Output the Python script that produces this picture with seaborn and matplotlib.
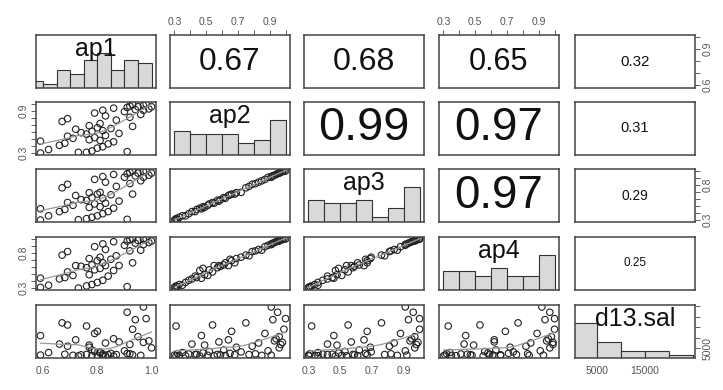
import numpy as np
import matplotlib
matplotlib.use("Agg")
import matplotlib.pyplot as plt
import seaborn as sns

sns.set_style("white")
plt.rcParams['font.family'] = ['Liberation Sans', 'DejaVu Sans']

var_names = ['ap1', 'ap2', 'ap3', 'ap4', 'd13.sal']

ap1 = [0.59, 0.73, 0.76, 0.91, 0.78, 0.62, 0.80, 0.82,
       0.66, 0.84, 0.68, 0.86, 0.59, 0.81, 0.77,
       0.71, 0.79, 0.69, 0.83, 0.76, 0.88, 0.74,
       0.78, 0.82, 0.72, 0.85, 0.80, 0.93, 0.77,
       0.81, 0.67, 0.87, 0.69,
       0.92, 0.83, 0.96, 0.79, 0.90,
       0.97, 0.82, 0.94, 0.99, 0.86, 0.91, 1.00, 0.95, 0.92, 0.97, 0.93, 0.98]
ap2 = [0.30, 0.31, 0.31, 0.32, 0.33, 0.35, 0.37, 0.39,
       0.41, 0.43, 0.44, 0.46, 0.47, 0.48, 0.49,
       0.51, 0.52, 0.54, 0.55, 0.57, 0.58, 0.59,
       0.61, 0.62, 0.64, 0.65, 0.66, 0.68, 0.69,
       0.72, 0.75, 0.77, 0.79,
       0.81, 0.83, 0.85, 0.87, 0.89,
       0.91, 0.91, 0.92, 0.93, 0.94, 0.95, 0.96, 0.96, 0.97, 0.98, 0.99, 1.00]
ap3 = [0.30, 0.305, 0.32, 0.31, 0.34, 0.36, 0.36, 0.39,
       0.42, 0.42, 0.45, 0.47, 0.46, 0.49, 0.48,
       0.51, 0.53, 0.55, 0.54, 0.58, 0.57, 0.59,
       0.62, 0.61, 0.65, 0.66, 0.67, 0.67, 0.69,
       0.695, 0.76, 0.78, 0.81,
       0.82, 0.84, 0.86, 0.88, 0.91,
       0.91, 0.92, 0.93, 0.94, 0.95, 0.96, 0.97, 0.97, 0.98, 0.99, 1.00, 1.00]
ap4 = [0.31, 0.30, 0.33, 0.32, 0.35, 0.34, 0.38, 0.41,
       0.43, 0.47, 0.45, 0.55, 0.44, 0.58, 0.49,
       0.48, 0.56, 0.53, 0.62, 0.59, 0.62, 0.61,
       0.63, 0.66, 0.62, 0.71, 0.69, 0.66, 0.72,
       0.74, 0.77, 0.76, 0.82,
       0.83, 0.85, 0.84, 0.89, 0.91,
       0.92, 0.93, 0.94, 0.95, 0.96, 0.97, 0.97, 0.98, 0.99, 0.99, 1.00, 1.00]
d13_sal = [1800, 1400, 15500, 2500, 1600, 3000, 1500, 2300,
           7000, 2000, 2200, 1350, 11000, 2800, 6500,
           1700, 3500, 16000, 1450, 2100, 8000, 1900,
           4200, 1550, 9000, 2600, 13000, 1950, 5500,
           3300, 17000, 2050, 6000,
           2400, 7500, 1650, 12000, 3800,
           24500, 1750, 18500, 8500, 9500, 22000, 5200, 10500, 6800, 7800, 14000, 19000]

# correlations printed in the upper panels
cor_upper = [[None, 0.67, 0.68, 0.65, 0.32],
             [None, None, 0.99, 0.97, 0.31],
             [None, None, None, 0.97, 0.29],
             [None, None, None, None, 0.25],
             [None, None, None, None, None]]

# histogram breaks
bin_start = [0.55, 0.3, 0.3, 0.3, 0]
bin_width = [0.05, 0.1, 0.1, 0.1, 5000]
bin_count = [9, 7, 7, 7, 5]

# axis ticks and the labels R managed to print
tick_vals = [[0.6, 0.7, 0.8, 0.9, 1.0],
             [0.3, 0.4, 0.5, 0.6, 0.7, 0.8, 0.9, 1.0],
             [0.3, 0.4, 0.5, 0.6, 0.7, 0.8, 0.9, 1.0],
             [0.3, 0.4, 0.5, 0.6, 0.7, 0.8, 0.9, 1.0],
             [5000, 10000, 15000, 20000, 25000]]
xtick_text = [['0.6', '', '0.8', '', '1.0'],
              ['0.3', '', '0.5', '', '0.7', '', '0.9', ''],
              ['0.3', '', '0.5', '', '0.7', '', '0.9', ''],
              ['0.3', '', '0.5', '', '0.7', '', '0.9', ''],
              ['5000', '', '15000', '', '']]
ytick_text = [['0.6', '', '', '0.9', ''],
              ['0.3', '', '', '', '', '', '0.9', ''],
              ['0.3', '', '', '', '', '0.8', '', ''],
              ['0.3', '', '', '', '', '0.8', '', ''],
              ['5000', '', '', '', '']]

data = [np.array(v, dtype=float) for v in [ap1, ap2, ap3, ap4, d13_sal]]
n = len(data)


def lims(v):
    r = v.max() - v.min()
    return v.min() - 0.04 * r, v.max() + 0.04 * r


def lowess_line(x, y, frac=2 / 3):
    order = np.argsort(x)
    xs, ys = x[order], y[order]
    k = int(np.ceil(frac * len(xs)))
    fit = []
    for xi in xs:
        d = np.abs(xs - xi)
        h = max(np.sort(d)[k - 1], 1e-12)
        w = np.clip(1 - (d / h) ** 3, 0, None) ** 3
        xm = (w * xs).sum() / w.sum()
        ym = (w * ys).sum() / w.sum()
        den = (w * (xs - xm) ** 2).sum()
        b = (w * (xs - xm) * (ys - ym)).sum() / den if den > 0 else 0
        fit.append(ym + b * (xi - xm))
    return xs, np.array(fit)


def style_ticks(a):
    a.tick_params(direction='out', length=3.5, width=0.6, color='#444',
                  labelcolor='#555', labelsize=7.5, pad=2)


W, H = 723, 390
fig = plt.figure(figsize=(W / 100, H / 100), dpi=100)
col_left = [36, 170, 304, 439, 575]
row_top = [35, 102, 169, 237, 305]
pw, ph = 120, 53

for i in range(n):
    for j in range(n):
        ax = fig.add_axes([col_left[j] / W, 1 - (row_top[i] + ph) / H, pw / W, ph / H])
        for s in ax.spines.values():
            s.set_color('#444')
            s.set_linewidth(1.1)
        ax.set_xlim(lims(data[j]))
        ylim_var = lims(data[i])

        if i == j:
            edges = np.round(bin_start[i] + bin_width[i] * np.arange(bin_count[i] + 1), 6)
            counts, _ = np.histogram(data[i], bins=edges)
            sns.histplot(x=data[i], bins=edges, ax=ax, color='#d9d9d9',
                         edgecolor='#333', linewidth=0.8, alpha=1)
            ax.set_ylim(0, 1.5 * counts.max())
            ax.set_xlim(lims(data[j]))
            ax.text(0.5, 0.73, var_names[i], transform=ax.transAxes,
                    ha='center', va='center', fontsize=18, color='#111')
        elif i > j:
            sns.scatterplot(x=data[j], y=data[i], ax=ax, marker='o', s=22,
                            facecolor='none', edgecolor='#222', linewidth=0.8)
            lx, ly = lowess_line(data[j], data[i])
            ax.plot(lx, ly, color='#999', lw=0.9)
            ax.set_ylim(ylim_var)
        else:
            ax.set_ylim(ylim_var)
            r = cor_upper[i][j]
            ax.text(0.5, 0.5, f'{r:.2f}', transform=ax.transAxes, ha='center',
                    va='center', fontsize=34 * r, color='#111')
        ax.set_xlabel('')
        ax.set_ylabel('')

        # x axis: top for odd columns on first row, bottom for even on last row
        if i == 0 and j % 2 == 1:
            ax.xaxis.tick_top()
            ax.set_xticks(tick_vals[j])
            ax.set_xticklabels(xtick_text[j])
        elif i == n - 1 and j % 2 == 0:
            ax.set_xticks(tick_vals[j])
            ax.set_xticklabels(xtick_text[j])
        else:
            ax.set_xticks([])

        # y axis: left for odd rows in the first column, right for even rows in the last
        yax = ax
        if i == j and ((j == 0 and i % 2 == 1) or (j == n - 1 and i % 2 == 0)):
            ax.set_yticks([])
            yax = ax.twinx()
            yax.set_ylim(ylim_var)
            for s in yax.spines.values():
                s.set_visible(False)
        if j == 0 and i % 2 == 1:
            yax.yaxis.tick_left()
            yax.set_yticks(tick_vals[i])
            yax.set_yticklabels(ytick_text[i], rotation=90, va='center')
        elif j == n - 1 and i % 2 == 0:
            yax.yaxis.tick_right()
            yax.set_yticks(tick_vals[i])
            yax.set_yticklabels(ytick_text[i], rotation=90, va='center')
        else:
            ax.set_yticks([])
        style_ticks(ax)
        if yax is not ax:
            style_ticks(yax)

fig.savefig('out.png', dpi=100)
